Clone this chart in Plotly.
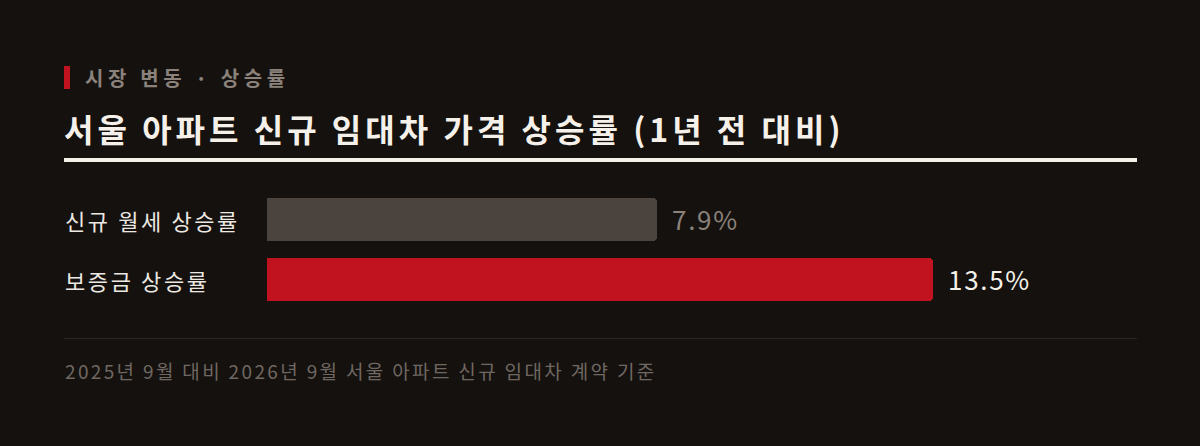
import plotly.graph_objects as go

# chart data
categories = ["신규 월세 상승률", "보증금 상승률"]
values = [7.9, 13.5]
value_labels = ["7.9%", "13.5%"]
bar_colors = ["#4b433e", "#c0131f"]
label_colors = ["#8a827b", "#f4f0ea"]

kicker = "시장 변동 · 상승률"
title = "서울 아파트 신규 임대차 가격 상승률 (1년 전 대비)"
footnote = "2025년 9월 대비 2026년 9월 서울 아파트 신규 임대차 계약 기준"

W, H = 1200, 446
BG = "#15110e"
FONT = "Noto Sans CJK KR"

# plot area in pixels
left, right, top, bottom = 267, 1137, 190, 310
plot_w = right - left


def px(x):
    return (x - left) / plot_w


def py(y):
    return (bottom - y) / (bottom - top)


def spaced(text, ls):
    return '<span style="letter-spacing:%spx">%s</span>' % (ls, text)


fig = go.Figure()
fig.add_trace(go.Bar(
    x=values,
    y=list(range(len(categories))),
    orientation="h",
    marker=dict(color=bar_colors, cornerradius=4, line=dict(width=0)),
    width=0.717,
    hoverinfo="skip",
))

annotations = []
for i, (cat, val, lab, col) in enumerate(zip(categories, values, value_labels, label_colors)):
    annotations.append(dict(
        x=px(63), xref="paper", y=i, yref="y", text=spaced(cat, 2.6), showarrow=False,
        xanchor="left", yanchor="middle",
        font=dict(family=FONT, size=22, color="#ece8e2"),
    ))
    annotations.append(dict(
        x=val, xref="x", y=i, yref="y", text=spaced(lab, 1.7), showarrow=False,
        xanchor="left", yanchor="middle", xshift=13, yshift=1,
        font=dict(family=FONT, size=26, color=col),
    ))

annotations += [
    dict(x=px(83), xref="paper", y=py(77), yref="paper",
         text=spaced("<b>" + kicker + "</b>", 4.6),
         showarrow=False, xanchor="left", yanchor="middle",
         font=dict(family=FONT, size=20, color="#8a827b")),
    dict(x=px(62), xref="paper", y=py(128), yref="paper", text=spaced("<b>" + title + "</b>", 4),
         showarrow=False, xanchor="left", yanchor="middle",
         font=dict(family=FONT, size=32, color="#f5f1ea")),
    dict(x=px(63), xref="paper", y=py(370.5), yref="paper", text=spaced(footnote, 2.35),
         showarrow=False, xanchor="left", yanchor="middle",
         font=dict(family=FONT, size=19, color="#6f6862")),
]

shapes = [
    dict(type="rect", xref="paper", yref="paper", x0=px(64), x1=px(70), y0=py(66), y1=py(89),
         fillcolor="#c0131f", line=dict(width=0)),
    dict(type="rect", xref="paper", yref="paper", x0=px(64), x1=px(1137), y0=py(158), y1=py(162),
         fillcolor="#f5f1ea", line=dict(width=0)),
    dict(type="line", xref="paper", yref="paper", x0=px(64), x1=px(1137), y0=py(338.5), y1=py(338.5),
         line=dict(color="#2b2623", width=1)),
]

fig.update_layout(
    width=W, height=H,
    margin=dict(l=left, r=W - right, t=top, b=H - bottom),
    paper_bgcolor=BG, plot_bgcolor=BG,
    showlegend=False,
    xaxis=dict(range=[0, plot_w / 49.35], visible=False, fixedrange=True),
    yaxis=dict(range=[1.5083, -0.4917], visible=False, fixedrange=True),
    annotations=annotations,
    shapes=shapes,
    bargap=0,
)

fig.write_html(
    "out.html",
    config={"displayModeBar": False},
    post_script="document.body.style.margin='0';document.body.style.background='%s';" % BG,
)
